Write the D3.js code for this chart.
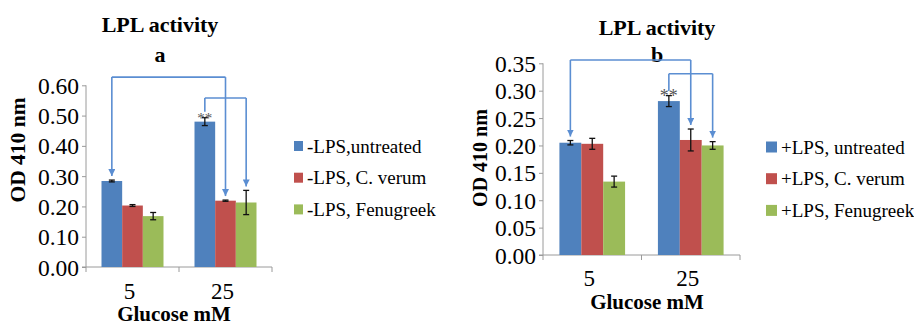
<!DOCTYPE html>
<html lang="en">
<head>
    <meta charset="UTF-8">
    <title>LPL activity</title>
    <script src="https://d3js.org/d3.v7.min.js"></script>
    <style>
        body { margin: 0; background: #fff; }
        svg text { font-family: "Liberation Serif", "DejaVu Serif", serif; fill: #000; }
        .title { font-weight: bold; font-size: 22px; }
        .tick text { font-size: 23.5px; }
        .ylab, .xlab { font-weight: bold; font-size: 21px; }
        .legend text { font-size: 19px; }
    </style>
</head>
<body>

<svg width="914" height="325"></svg>

<script>
    var groups = ["5", "25"];
    var colors = ["#4F81BD", "#C0504D", "#9BBB59"];
    var serif = "'Liberation Serif', 'DejaVu Serif', serif";

    // panel a (-LPS)
    var seriesA = ["-LPS,untreated", "-LPS, C. verum", "-LPS, Fenugreek"];
    var valuesA = [[0.284, 0.203, 0.168], [0.480, 0.219, 0.213]];
    var errorsA = [[0.003, 0.003, 0.012], [0.013, 0.002, 0.040]];
    var ticksA = [0, 0.1, 0.2, 0.3, 0.4, 0.5, 0.6];
    // comparison brackets: [group, series] -> [group, series], bracket level (OD)
    var compareA = [
        { from: [0, 0], to: [1, 1], level: 0.627, arrowFrom: true },
        { from: [1, 0], to: [1, 2], level: 0.558, arrowFrom: false }
    ];
    var starsA = [[1, 0]];

    // panel b (+LPS)
    var seriesB = ["+LPS, untreated", "+LPS, C. verum", "+LPS, Fenugreek"];
    var valuesB = [[0.205, 0.203, 0.134], [0.281, 0.210, 0.200]];
    var errorsB = [[0.004, 0.010, 0.010], [0.010, 0.020, 0.007]];
    var ticksB = [0, 0.05, 0.1, 0.15, 0.2, 0.25, 0.3, 0.35];
    var compareB = [
        { from: [0, 0], to: [1, 1], level: 0.356, arrowFrom: true },
        { from: [1, 0], to: [1, 2], level: 0.331, arrowFrom: false }
    ];
    var starsB = [[1, 0]];

    var svg = d3.select("svg");
    var defs = svg.append("defs");
    var arrowColor = "#5B8ED2";
    defs.append("marker")
        .attr("id", "arrow")
        .attr("viewBox", "0 0 10 10")
        .attr("refX", 10).attr("refY", 5)
        .attr("markerWidth", 7).attr("markerHeight", 7)
        .attr("markerUnits", "userSpaceOnUse")
        .attr("orient", "auto")
        .append("path")
        .attr("d", "M0,0L10,5L0,10Z")
        .attr("fill", arrowColor);

    function drawPanel(p) {
        var g = svg.append("g").attr("font-family", serif);
        var x = d3.scaleBand().domain(groups).range(p.xRange).paddingInner(1 / 3).paddingOuter(1 / 6);
        var xs = d3.scaleBand().domain([0, 1, 2]).range([0, x.bandwidth()]);
        var y = d3.scaleLinear().domain([0, p.yMax]).range(p.yRange);
        var cx = function (gi, si) { return x(groups[gi]) + xs(si) + xs.bandwidth() / 2; };

        // titles
        g.append("text").attr("class", "title").attr("text-anchor", "middle")
            .attr("x", p.titleX).attr("y", p.titleY).text("LPL activity");
        g.append("text").attr("class", "title").attr("text-anchor", "middle")
            .attr("x", p.titleX).attr("y", 62).text(p.letter);

        // y axis
        var yAxis = d3.axisLeft(y).tickValues(p.ticks).tickFormat(d3.format(".2f"))
            .tickSize(4).tickPadding(3);
        var ya = g.append("g").attr("transform", "translate(" + p.xRange[0] + ",0)").call(yAxis);
        ya.attr("font-family", serif);
        ya.select(".domain").attr("stroke", "#9a9a9a").attr("d", "M0," + y(0) + "V" + y(p.yMax));
        ya.selectAll(".tick line").attr("stroke", "#9a9a9a");
        ya.selectAll(".tick text").attr("dy", "0.34em");

        // x axis line and boundary ticks
        var xa = g.append("g").attr("stroke", "#9a9a9a").attr("stroke-width", 1);
        xa.append("line").attr("x1", p.xRange[0] - 4).attr("x2", p.xRange[1])
            .attr("y1", y(0)).attr("y2", y(0));
        d3.range(groups.length + 1).forEach(function (i) {
            var tx = p.xRange[0] + i * x.step();
            xa.append("line").attr("x1", tx).attr("x2", tx).attr("y1", y(0)).attr("y2", y(0) + 5);
        });
        g.selectAll(".xtick").data(groups).enter().append("text")
            .attr("class", "xtick").style("font-size", "23px").attr("text-anchor", "middle")
            .attr("x", function (d) { return x(d) + x.bandwidth() / 2 - 3; })
            .attr("y", p.xTickY).text(function (d) { return d; });

        g.append("text").attr("class", "xlab").attr("text-anchor", "middle")
            .attr("x", p.xLabX).attr("y", p.xLabY).text("Glucose mM");
        g.append("text").attr("class", "ylab").attr("text-anchor", "middle")
            .style("font-size", p.yLabSize + "px")
            .attr("transform", "translate(" + p.yLabX + "," + p.yLabY + ") rotate(-90)")
            .text("OD 410 nm");

        // bars and error bars
        p.values.forEach(function (row, gi) {
            row.forEach(function (v, si) {
                var e = p.errors[gi][si];
                var c = cx(gi, si);
                g.append("rect")
                    .attr("x", x(groups[gi]) + xs(si))
                    .attr("y", y(v))
                    .attr("width", xs.bandwidth())
                    .attr("height", y(0) - y(v))
                    .attr("fill", colors[si]);
                var eb = g.append("g").attr("stroke", "#111").attr("stroke-width", 1.3);
                eb.append("line").attr("x1", c).attr("x2", c).attr("y1", y(v - e)).attr("y2", y(v + e));
                eb.append("line").attr("x1", c - 3).attr("x2", c + 3).attr("y1", y(v - e)).attr("y2", y(v - e));
                eb.append("line").attr("x1", c - 3).attr("x2", c + 3).attr("y1", y(v + e)).attr("y2", y(v + e));
            });
        });

        // significance stars
        p.stars.forEach(function (s) {
            g.append("text").attr("text-anchor", "middle")
                .style("font-size", p.starSize + "px").style("fill", "#555")
                .attr("x", cx(s[0], s[1])).attr("y", y(p.values[s[0]][s[1]]) + 1)
                .text("**");
        });

        // comparison brackets
        p.compare.forEach(function (c) {
            var x1 = cx(c.from[0], c.from[1]), x2 = cx(c.to[0], c.to[1]);
            var ly = y(c.level);
            var top1 = y(p.values[c.from[0]][c.from[1]] + p.errors[c.from[0]][c.from[1]]);
            var top2 = y(p.values[c.to[0]][c.to[1]] + p.errors[c.to[0]][c.to[1]]);
            var line = g.append("g").attr("fill", "none").attr("stroke", arrowColor).attr("stroke-width", 1.6);
            line.append("line").attr("x1", x1).attr("x2", x2).attr("y1", ly).attr("y2", ly);
            var l1 = line.append("line").attr("x1", x1).attr("x2", x1).attr("y1", ly)
                .attr("y2", c.arrowFrom ? top1 - 4 : y(p.values[c.from[0]][c.from[1]]) - 10);
            if (c.arrowFrom) l1.attr("marker-end", "url(#arrow)");
            line.append("line").attr("x1", x2).attr("x2", x2).attr("y1", ly).attr("y2", top2 - 4)
                .attr("marker-end", "url(#arrow)");
        });

        // legend
        var lg = g.append("g").attr("class", "legend");
        p.series.forEach(function (s, i) {
            var ry = p.legY + i * 31.7;
            lg.append("rect").attr("x", p.legX).attr("y", ry - p.legSq[1] / 2)
                .attr("width", p.legSq[0]).attr("height", p.legSq[1]).attr("fill", colors[i]);
            lg.append("text").attr("x", p.legX + p.legSq[0] + 4).attr("y", ry + 6.5).text(s);
        });
    }

    drawPanel({
        letter: "a", series: seriesA, values: valuesA, errors: errorsA, ticks: ticksA,
        compare: compareA, stars: starsA, yMax: 0.6,
        xRange: [86, 272], yRange: [267, 85.3],
        titleX: 160, titleY: 32, xTickY: 299, xLabX: 174, xLabY: 321,
        yLabX: 25, yLabY: 150, yLabSize: 21.5, starSize: 15,
        legX: 294, legY: 146, legSq: [9, 10]
    });

    drawPanel({
        letter: "b", series: seriesB, values: valuesB, errors: errorsB, ticks: ticksB,
        compare: compareB, stars: starsB, yMax: 0.35,
        xRange: [543, 740], yRange: [255, 63.3],
        titleX: 657, titleY: 35, xTickY: 286, xLabX: 647, xLabY: 309,
        yLabX: 487, yLabY: 158, yLabSize: 20, starSize: 18,
        legX: 766, legY: 147, legSq: [11, 11]
    });
</script>

</body>
</html>
